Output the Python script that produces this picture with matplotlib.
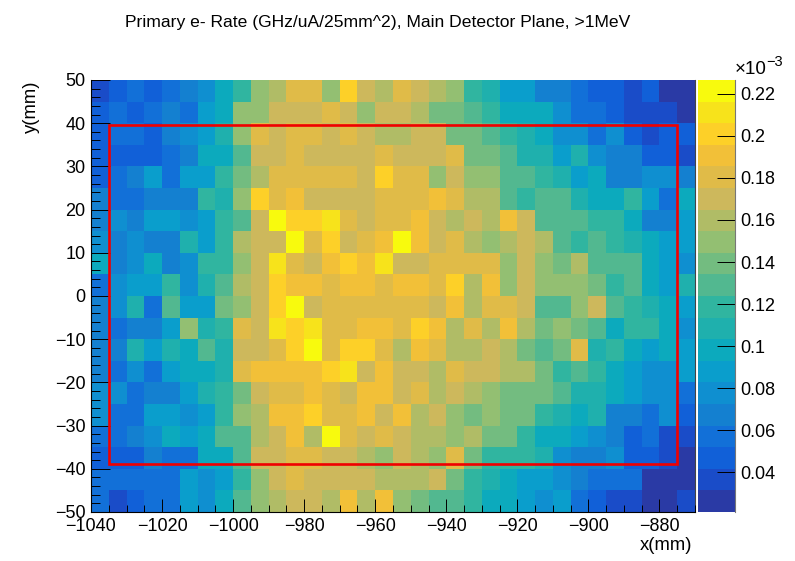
"""Primary electron rate map on the main detector plane."""

import numpy as np
import matplotlib

matplotlib.use("Agg")
from matplotlib import pyplot as plt
from matplotlib.colors import ListedColormap
from matplotlib.patches import Rectangle
from matplotlib.ticker import FixedLocator, MultipleLocator

plt.rcParams["font.family"] = ["Liberation Sans", "DejaVu Sans"]

# bin edges in mm
x_edges = list(range(-1040, -865, 5))
y_edges = list(range(-50, 55, 5))

# rate per cell, 1e-3 of the colour bar unit, top row first
row_y45 = [37,47,57,47,57,67,78,98,119,150,160,181,181,150,201,170,160,181,170,160,150,119,109,88,88,67,67,57,47,47,37,47,26,26]
row_y40 = [47,57,47,57,67,57,88,98,150,150,170,170,170,181,170,150,170,170,160,140,140,129,119,98,98,98,78,57,57,47,37,37,37,26]
row_y35 = [47,57,57,47,67,78,88,109,150,181,170,181,181,170,181,170,160,160,170,170,140,140,129,119,109,98,78,78,57,78,47,37,47,47]
row_y30 = [47,47,47,47,57,67,98,98,129,170,170,181,170,170,170,170,181,170,170,170,181,140,140,129,109,109,88,109,78,67,67,47,47,37]
row_y25 = [47,57,67,88,57,88,88,119,140,160,181,181,181,181,181,170,201,181,181,150,170,150,150,129,129,119,109,88,98,67,67,78,78,67]
row_y20 = [67,57,57,67,67,67,119,109,150,201,181,191,170,170,170,170,181,181,181,191,181,160,160,129,119,129,129,109,98,98,119,88,57,98]
row_y15 = [67,78,67,88,88,78,88,119,129,170,222,201,201,211,181,170,181,181,191,170,160,170,160,191,170,129,129,129,119,119,98,67,67,88]
row_y10 = [78,67,78,67,67,109,88,119,160,170,170,222,181,201,170,181,191,222,191,170,181,160,150,160,170,160,129,119,129,119,109,98,88,88]
row_y05 = [98,67,78,98,67,78,119,119,150,170,211,181,170,191,201,191,211,170,170,181,181,181,181,150,170,150,140,160,129,129,129,98,88,78]
row_y00 = [57,78,88,88,119,78,109,129,160,170,201,191,191,181,191,191,181,191,191,181,201,160,191,150,170,150,150,150,140,119,129,98,88,109]
row_ym05 = [67,78,109,57,129,88,88,140,150,170,201,222,170,181,181,181,181,181,181,170,191,160,181,181,170,129,129,150,170,129,119,109,98,88]
row_ym10 = [67,57,67,67,88,150,109,119,181,170,211,201,211,181,181,191,191,181,201,191,160,181,160,191,160,140,150,140,129,98,119,119,98,78]
row_ym15 = [67,67,109,88,109,98,129,109,170,170,181,201,222,181,201,201,181,160,191,181,160,160,170,160,140,129,140,181,109,119,98,88,98,88]
row_ym20 = [67,57,78,57,88,98,98,109,181,191,191,191,191,201,211,170,191,170,170,160,181,170,170,160,160,140,119,129,119,98,88,78,78,88]
row_ym25 = [78,78,57,67,67,88,109,119,140,170,181,181,191,181,170,191,191,170,181,160,170,160,150,140,140,140,129,109,109,98,88,78,78,57]
row_ym30 = [78,57,57,88,88,78,88,119,150,160,191,191,201,181,181,191,170,191,160,170,150,140,150,140,140,119,109,98,109,67,67,57,78,47]
row_ym35 = [57,57,67,78,98,88,98,129,129,160,170,191,160,222,181,170,181,170,160,160,150,160,140,140,119,98,98,88,78,67,47,57,37,37]
row_ym40 = [47,47,47,67,57,57,98,98,129,170,170,181,181,170,170,160,150,170,160,150,181,140,119,119,119,109,78,67,67,78,47,47,37,26]
row_ym45 = [57,57,57,57,57,88,78,88,119,150,170,181,170,170,170,170,160,160,160,170,140,119,109,98,88,88,78,67,57,57,57,26,26,26]
row_ym50 = [57,37,47,57,57,88,78,98,129,150,160,170,170,160,191,160,191,150,140,129,129,119,98,98,88,78,88,57,47,37,37,26,26,37]

rows = [row_y45, row_y40, row_y35, row_y30, row_y25, row_y20, row_y15, row_y10, row_y05, row_y00,
        row_ym05, row_ym10, row_ym15, row_ym20, row_ym25, row_ym30, row_ym35, row_ym40, row_ym45, row_ym50]

# ROOT bird palette, 20 contours
palette = ["#2a3aa5", "#1a4cc8", "#1160d8", "#1270d8", "#1480d0", "#0f8fd0", "#0a9ecc", "#0caabd",
           "#1fb0ad", "#30b5a0", "#52b890", "#73bc80", "#93bf72", "#b0bc66", "#cdb85c", "#e0bb48",
           "#f2c038", "#fdd028", "#f7e31b", "#f8fa0d"]

z_min, z_max = 0.0212, 0.2265
cbar_ticks = [0.04, 0.06, 0.08, 0.1, 0.12, 0.14, 0.16, 0.18, 0.2, 0.22]
cbar_labels = ["0.04", "0.06", "0.08", "0.1", "0.12", "0.14", "0.16", "0.18", "0.2", "0.22"]

# red box marking the detector outline
box_x = (-1035, -875)
box_y = (-39, 39.5)

W, H = 795, 561
fig = plt.figure(figsize=(W / 100, H / 100), dpi=100)
ax = fig.add_axes([91 / W, 1 - 512 / H, 604 / W, 432 / H])
cax = fig.add_axes([698 / W, 1 - 512 / H, 37 / W, 432 / H])

z = np.array(rows[::-1]) / 1000
mesh = ax.pcolormesh(x_edges, y_edges, z, cmap=ListedColormap(palette), vmin=z_min, vmax=z_max)
ax.add_patch(Rectangle((box_x[0], box_y[0]), box_x[1] - box_x[0], box_y[1] - box_y[0],
                       fill=False, edgecolor="#f00000", linewidth=1.9, zorder=5))

ax.set_xlim(-1040, -870)
ax.set_ylim(-50, 50)
ax.xaxis.set_major_locator(MultipleLocator(20))
ax.xaxis.set_minor_locator(MultipleLocator(5))
ax.yaxis.set_major_locator(MultipleLocator(10))
ax.yaxis.set_minor_locator(MultipleLocator(2))
ax.tick_params(axis="x", which="major", direction="in", length=9.5, width=0.7, labelsize=13, pad=4)
ax.tick_params(axis="x", which="minor", direction="in", length=4.7, width=0.7)
ax.tick_params(axis="y", which="major", direction="in", length=13.5, width=0.7, labelsize=13, pad=4)
ax.tick_params(axis="y", which="minor", direction="in", length=6.5, width=0.7)
ax.spines["top"].set_visible(False)
ax.spines["right"].set_color("#444444")
ax.set_axisbelow(False)

cbar = fig.colorbar(mesh, cax=cax)
cbar.outline.set_visible(False)
cbar.minorticks_off()
cax.yaxis.set_major_locator(FixedLocator(cbar_ticks))
cax.set_yticklabels(cbar_labels)
cax.tick_params(axis="y", direction="in", length=13, width=0.7, labelsize=13, pad=4)
cax.spines["right"].set_visible(True)
cax.spines["right"].set_color("#777777")
cax.spines["right"].set_zorder(6)

fig.text(378 / W, 1 - 22 / H, "Primary e- Rate (GHz/uA/25mm^2), Main Detector Plane, >1MeV",
         ha="center", va="center", fontsize=12.6)
fig.text(692 / W, 1 - 545 / H, "x(mm)", ha="right", va="center", fontsize=13.3)
fig.text(31 / W, 1 - 107 / H, "y(mm)", ha="center", va="center", rotation=90, fontsize=13.3)
fig.text(735 / W, 1 - 70 / H, "×10", ha="left", va="center", fontsize=13.5)
fig.text(766 / W, 1 - 62 / H, "−3", ha="left", va="center", fontsize=10.5)

fig.savefig("out.png", dpi=100)
plt.close(fig)
